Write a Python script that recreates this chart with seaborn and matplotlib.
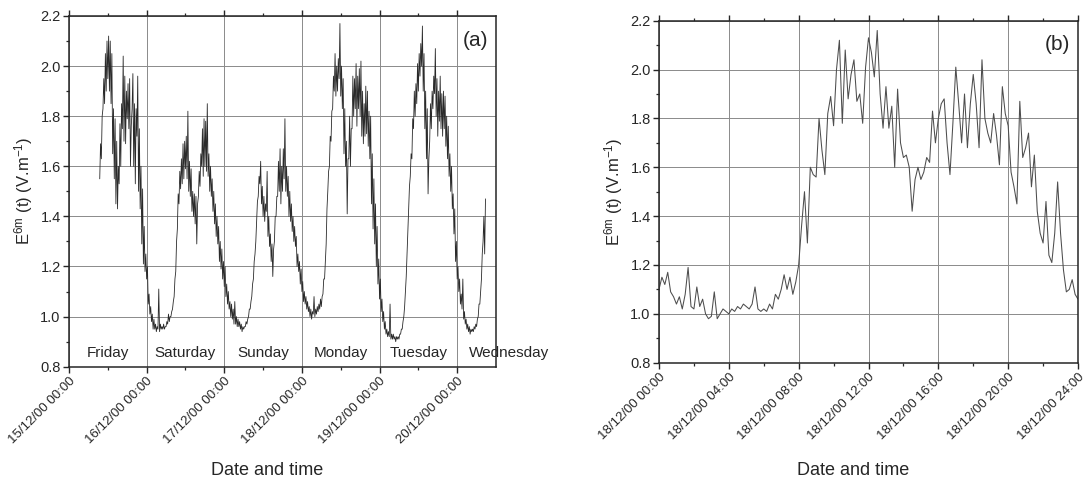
import numpy as np
import pandas as pd
import matplotlib
matplotlib.use("Agg")
import matplotlib.pyplot as plt
import seaborn as sns

# ---------------- data ----------------
# Panel (a): field envelope (low / high) every half hour, hours since 15/12/00 00:00
a_start_hour = 9.5
a_step_hours = 0.5
a_low = [
    1.55, 1.63, 1.83, 1.85, 1.90, 1.95, 1.90, 1.85, 1.65, 1.55, 1.45, 1.43,
    1.53, 1.60, 1.75, 1.70, 1.69, 1.79, 1.75, 1.60, 1.83, 1.60, 1.53, 1.72,
    1.50, 1.43, 1.29, 1.21, 1.18, 1.15, 1.05, 1.01, 0.98, 0.95, 0.95, 0.94,
    0.95, 0.94, 0.95, 0.95, 0.95, 0.96, 0.97, 0.98, 1.00, 1.03, 1.08, 1.18,
    1.35, 1.45, 1.51, 1.53, 1.55, 1.59, 1.55, 1.50, 1.48, 1.42, 1.40, 1.37,
    1.29, 1.48, 1.52, 1.60, 1.56, 1.60, 1.58, 1.56, 1.50, 1.48, 1.42, 1.37,
    1.32, 1.29, 1.22, 1.19, 1.15, 1.12, 1.08, 1.05, 1.03, 1.00, 0.99, 0.97,
    0.97, 0.96, 0.96, 0.95, 0.94, 0.95, 0.96, 0.97, 1.00, 1.03, 1.08, 1.15,
    1.25, 1.38, 1.48, 1.53, 1.45, 1.40, 1.38, 1.42, 1.32, 1.28, 1.22, 1.16,
    1.30, 1.40, 1.48, 1.50, 1.45, 1.50, 1.55, 1.50, 1.48, 1.40, 1.38, 1.34,
    1.30, 1.28, 1.20, 1.18, 1.13, 1.10, 1.06, 1.05, 1.03, 1.02, 1.00, 0.99,
    1.01, 1.00, 1.01, 1.02, 1.03, 1.04, 1.09, 1.15, 1.29, 1.50, 1.60, 1.70,
    1.83, 1.90, 1.88, 1.90, 1.95, 1.88, 1.83, 1.65, 1.60, 1.41, 1.63, 1.60,
    1.75, 1.80, 1.83, 1.76, 1.83, 1.80, 1.72, 1.69, 1.72, 1.73, 1.68, 1.63,
    1.45, 1.35, 1.29, 1.20, 1.13, 1.07, 1.02, 0.98, 0.95, 0.93, 0.92, 0.92,
    0.91, 0.91, 0.91, 0.90, 0.91, 0.91, 0.93, 0.95, 1.00, 1.10, 1.25, 1.43,
    1.56, 1.63, 1.75, 1.80, 1.85, 1.90, 1.96, 2.00, 1.90, 1.75, 1.63, 1.49,
    1.70, 1.75, 1.83, 1.89, 1.80, 1.72, 1.78, 1.75, 1.72, 1.75, 1.68, 1.63,
    1.56, 1.50, 1.43, 1.33, 1.22, 1.15, 1.10, 1.05, 1.03, 0.99, 0.97, 0.95,
    0.94, 0.93, 0.94, 0.94, 0.95, 0.96, 1.00, 1.05, 1.15, 1.30, 1.25,
]
a_high = [
    1.69, 1.80, 1.95, 2.05, 2.10, 2.12, 2.10, 2.05, 1.83, 1.79, 1.70, 1.60,
    1.77, 1.85, 2.04, 1.96, 1.90, 1.93, 1.95, 1.76, 1.97, 1.85, 1.83, 1.96,
    1.75, 1.60, 1.51, 1.36, 1.25, 1.20, 1.09, 1.04, 1.01, 0.99, 0.97, 0.96,
    1.11, 0.97, 0.96, 0.97, 0.96, 0.98, 1.01, 1.00, 1.02, 1.06, 1.15, 1.30,
    1.49, 1.58, 1.63, 1.69, 1.70, 1.72, 1.82, 1.62, 1.59, 1.50, 1.49, 1.48,
    1.45, 1.58, 1.65, 1.75, 1.79, 1.78, 1.85, 1.65, 1.60, 1.55, 1.50, 1.45,
    1.40, 1.36, 1.30, 1.27, 1.22, 1.20, 1.13, 1.10, 1.06, 1.05, 1.03, 1.06,
    1.00, 0.99, 0.98, 0.97, 0.96, 0.96, 0.98, 0.99, 1.03, 1.06, 1.13, 1.22,
    1.30, 1.46, 1.56, 1.62, 1.52, 1.48, 1.45, 1.58, 1.40, 1.33, 1.29, 1.27,
    1.40, 1.48, 1.62, 1.67, 1.60, 1.67, 1.79, 1.60, 1.56, 1.50, 1.45, 1.40,
    1.36, 1.32, 1.25, 1.22, 1.19, 1.14, 1.10, 1.08, 1.06, 1.04, 1.03, 1.02,
    1.08, 1.03, 1.04, 1.05, 1.07, 1.08, 1.15, 1.22, 1.43, 1.58, 1.72, 1.82,
    1.96, 2.05, 2.00, 2.03, 2.17, 2.00, 1.95, 1.83, 1.70, 1.63, 1.80, 1.75,
    1.96, 1.95, 2.01, 1.96, 1.99, 2.02, 1.90, 1.85, 1.92, 1.90, 1.82, 1.80,
    1.65, 1.55, 1.45, 1.36, 1.23, 1.15, 1.07, 1.02, 0.98, 0.95, 0.94, 1.05,
    0.93, 0.93, 0.92, 0.92, 0.92, 0.93, 0.95, 0.98, 1.04, 1.16, 1.35, 1.52,
    1.65, 1.79, 1.90, 1.93, 2.01, 2.05, 2.09, 2.16, 2.05, 1.90, 1.83, 1.63,
    1.85, 1.90, 1.96, 2.07, 1.95, 1.90, 1.96, 1.89, 1.90, 1.88, 1.80, 1.76,
    1.65, 1.60, 1.49, 1.43, 1.30, 1.20, 1.15, 1.09, 1.15, 1.02, 0.99, 0.97,
    0.96, 0.95, 0.95, 0.96, 0.97, 0.99, 1.05, 1.10, 1.25, 1.40, 1.47,
]
a_tick_labels = ["15/12/00 00:00", "16/12/00 00:00", "17/12/00 00:00",
                 "18/12/00 00:00", "19/12/00 00:00", "20/12/00 00:00"]
a_day_names = ["Friday", "Saturday", "Sunday", "Monday", "Tuesday", "Wednesday"]
a_day_name_hours = [12, 36, 60, 84, 108, 136]

# Panel (b): Monday 18/12/00, one value every 10 minutes
b_step_hours = 1 / 6
b_values = [
    1.10, 1.15, 1.12, 1.17, 1.09, 1.07,   # 00h
    1.04, 1.07, 1.02, 1.08, 1.19, 1.03,   # 01h
    1.02, 1.11, 1.03, 1.06, 1.00, 0.98,   # 02h
    0.99, 1.09, 0.98, 1.00, 1.02, 1.01,   # 03h
    1.00, 1.02, 1.01, 1.03, 1.02, 1.04,   # 04h
    1.03, 1.02, 1.04, 1.11, 1.02, 1.01,   # 05h
    1.02, 1.01, 1.04, 1.02, 1.08, 1.06,   # 06h
    1.10, 1.16, 1.10, 1.15, 1.08, 1.13,   # 07h
    1.20, 1.36, 1.50, 1.29, 1.60, 1.57,   # 08h
    1.56, 1.80, 1.67, 1.57, 1.82, 1.89,   # 09h
    1.77, 2.00, 2.12, 1.78, 2.08, 1.88,   # 10h
    1.98, 2.04, 1.87, 1.90, 1.78, 2.01,   # 11h
    2.13, 2.07, 1.97, 2.16, 1.90, 1.76,   # 12h
    1.93, 1.76, 1.85, 1.60, 1.92, 1.70,   # 13h
    1.64, 1.65, 1.60, 1.42, 1.55, 1.60,   # 14h
    1.55, 1.58, 1.64, 1.62, 1.83, 1.70,   # 15h
    1.80, 1.86, 1.88, 1.70, 1.57, 1.78,   # 16h
    2.01, 1.86, 1.70, 1.90, 1.68, 1.86,   # 17h
    1.98, 1.86, 1.68, 2.04, 1.80, 1.74,   # 18h
    1.70, 1.82, 1.73, 1.61, 1.93, 1.82,   # 19h
    1.77, 1.58, 1.52, 1.45, 1.87, 1.64,   # 20h
    1.68, 1.74, 1.52, 1.65, 1.42, 1.33,   # 21h
    1.29, 1.46, 1.24, 1.21, 1.33, 1.54,   # 22h
    1.33, 1.18, 1.09, 1.10, 1.14, 1.08,   # 23h
    1.06,                                 # 24h
]
b_tick_labels = ["18/12/00 00:00", "18/12/00 04:00", "18/12/00 08:00",
                 "18/12/00 12:00", "18/12/00 16:00", "18/12/00 20:00",
                 "18/12/00 24:00"]

y_ticks = [0.8, 1.0, 1.2, 1.4, 1.6, 1.8, 2.0, 2.2]
y_label = "E$^{6m}$ (t) (V.m$^{-1}$)"
x_label = "Date and time"
panel_tags = ["(a)", "(b)"]

# ---------------- frames ----------------
a_hours = a_start_hour + a_step_hours * np.arange(len(a_low))
df_a = pd.DataFrame({
    "t": np.concatenate([a_hours, a_hours + a_step_hours / 2]),
    "E": np.concatenate([a_low, a_high]),
}).sort_values("t", kind="mergesort")
b_hours = b_step_hours * np.arange(len(b_values))
df_b = pd.DataFrame({"t": b_hours, "E": b_values})

# ---------------- style ----------------
sns.set_theme(style="white")
plt.rcParams["font.family"] = ["Liberation Sans", "DejaVu Sans"]
plt.rcParams["mathtext.fontset"] = "custom"
plt.rcParams["mathtext.rm"] = "Liberation Sans"
plt.rcParams["mathtext.it"] = "Liberation Sans:italic"
plt.rcParams["mathtext.default"] = "regular"

ink = "#262626"
grid_c = "#8a8a8a"

fig = plt.figure(figsize=(10.86, 4.79), dpi=100)
fig.patch.set_facecolor("white")
axA = fig.add_axes([69 / 1086, 1 - 366.7 / 479, 427 / 1086, 350.7 / 479])
axB = fig.add_axes([659 / 1086, 1 - 362.7 / 479, 419 / 1086, 342 / 479])

sns.lineplot(data=df_a, x="t", y="E", ax=axA, color="#2a2a2a", lw=0.6,
             estimator=None, sort=False)
sns.lineplot(data=df_b, x="t", y="E", ax=axB, color="#4d4d4d", lw=0.75,
             estimator=None, sort=False)


def style_axes(ax, xmax, major, minor, labels, label_y):
    ax.set_xlim(0, xmax)
    ax.set_ylim(0.8, 2.2)
    ax.set_xticks(np.arange(0, len(labels)) * major)
    ax.set_xticks(np.arange(minor, xmax, major), minor=True)
    ax.set_xticklabels(labels, rotation=45, ha="right", rotation_mode="anchor",
                       fontsize=9.5, color=ink)
    ax.set_yticks(y_ticks)
    ax.set_yticks(np.arange(0.9, 2.2, 0.2), minor=True)
    ax.set_yticklabels([f"{v:.1f}" for v in y_ticks], fontsize=10.5, color=ink)
    ax.grid(True, which="major", color=grid_c, lw=0.7)
    ax.set_axisbelow(True)
    for s in ax.spines.values():
        s.set_color(ink)
        s.set_linewidth(1.1)
    ax.tick_params(axis="both", which="major", direction="out", length=4,
                   width=1.0, color=ink, pad=2)
    ax.tick_params(axis="both", which="minor", direction="out", length=2.5,
                   width=0.9, color=ink)
    ax.tick_params(axis="x", which="both", top=True, bottom=True, labeltop=False)
    ax.tick_params(axis="y", which="both", left=True, right=False)
    ax.set_xlabel(x_label, fontsize=13, color=ink)
    ax.xaxis.set_label_coords(0.464, label_y)
    ax.set_ylabel(y_label, fontsize=12, color=ink, labelpad=4)


style_axes(axA, 132, 24, 12, a_tick_labels, -0.272)
style_axes(axB, 24, 4, 2, b_tick_labels, -0.29)

for name, h in zip(a_day_names, a_day_name_hours):
    axA.text(h, 0.855, name, ha="center", va="center", fontsize=11,
             color=ink, clip_on=False)

axA.text(0.953, 0.931, panel_tags[0], transform=axA.transAxes, ha="center",
         va="center", fontsize=15, color=ink)
axB.text(0.95, 0.93, panel_tags[1], transform=axB.transAxes, ha="center",
         va="center", fontsize=15, color=ink)

fig.savefig("out.png", dpi=100, facecolor="white")
